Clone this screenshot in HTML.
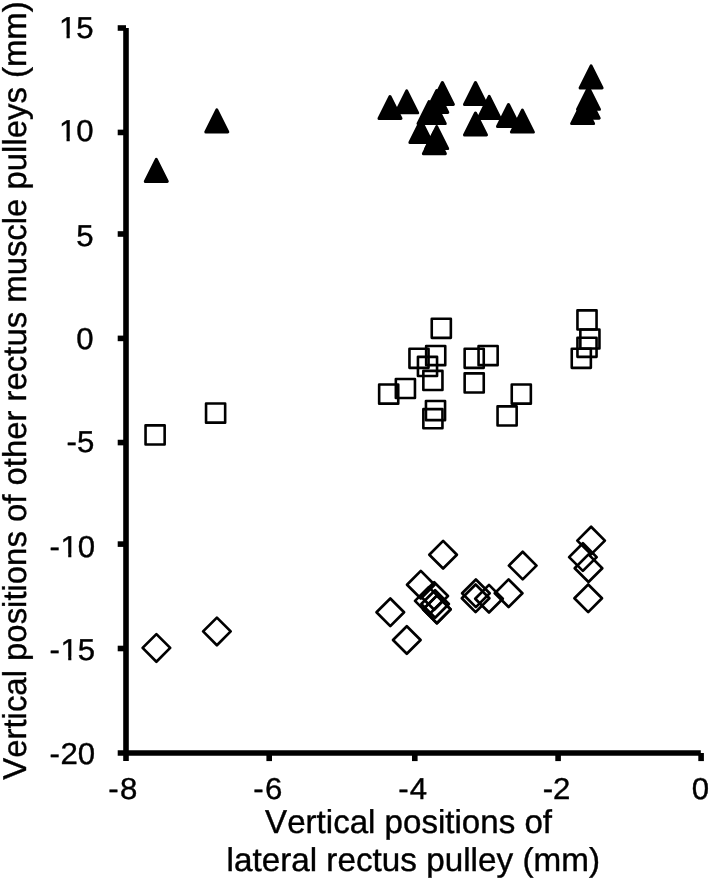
<!DOCTYPE html>
<html lang="en">
<head>
<meta charset="utf-8">
<title>Vertical positions of rectus muscle pulleys</title>
<style>
html,body{margin:0;padding:0;background:#fff;}
svg{display:block;}
text{font-family:"Liberation Sans",Arial,Helvetica,sans-serif;fill:#000;stroke:#000;stroke-width:0.4px;text-rendering:geometricPrecision;font-kerning:none;}
.tk{font-size:30.25px;}
.ti{font-size:33px;}
.ax{stroke:#000;stroke-width:5.6;fill:none;}
.tr{fill:#000;stroke:#000;stroke-width:3;stroke-linejoin:round;}
.sq{fill:none;stroke:#000;stroke-width:2.6;stroke-linejoin:round;}
.di{fill:none;stroke:#000;stroke-width:2.7;stroke-linejoin:round;}
</style>
</head>
<body>
<svg width="710" height="882" viewBox="0 0 710 882">
<rect x="0" y="0" width="710" height="882" fill="#fff"/>
<g class="ax">
<path d="M126.00 28.00 V761.10"/>
<path d="M117.70 753.00 H700.80"/>
<path d="M117.70 28.00 H126.00"/>
<path d="M117.70 132.45 H126.00"/>
<path d="M117.70 234.00 H126.00"/>
<path d="M117.70 338.40 H126.00"/>
<path d="M117.70 442.55 H126.00"/>
<path d="M117.70 544.10 H126.00"/>
<path d="M117.70 648.50 H126.00"/>
<path d="M269.20 753.00 V761.10"/>
<path d="M414.80 753.00 V761.10"/>
<path d="M558.10 753.00 V761.10"/>
<path d="M701.10 753.00 V761.10"/>
</g>
<g class="tk" text-anchor="end">
<text transform="translate(93.7 38) scale(1.03 1)">15</text>
<text transform="translate(93.7 141) scale(1.03 1)">10</text>
<text transform="translate(93.7 246) scale(1.03 1)">5</text>
<text transform="translate(93.7 349) scale(1.03 1)">0</text>
<text transform="translate(94.3 452) scale(1.03 1)">-5</text>
<text transform="translate(95.2 557) scale(1.03 1)">-<tspan dx="0.6">10</tspan></text>
<text transform="translate(95.2 660) scale(1.03 1)">-<tspan dx="0.6">15</tspan></text>
<text transform="translate(95.2 764) scale(1.03 1)">-<tspan dx="0.6">20</tspan></text>
</g>
<g fill="#fff">
<rect x="60.50" y="34.7" width="6.03" height="5"/><rect x="69.75" y="34.7" width="5.85" height="5"/>
<rect x="60.50" y="137.7" width="6.03" height="5"/><rect x="69.75" y="137.7" width="5.85" height="5"/>
<rect x="61.90" y="553.7" width="6.31" height="5"/><rect x="71.36" y="553.7" width="5.94" height="5"/>
<rect x="61.90" y="656.7" width="6.31" height="5"/><rect x="71.36" y="656.7" width="5.94" height="5"/>
</g>
<g class="tk" text-anchor="middle">
<text transform="translate(122.8 799) scale(1.03 1)">-<tspan dx="1.2">8</tspan></text>
<text transform="translate(267.8 799) scale(1.03 1)">-<tspan dx="1.2">6</tspan></text>
<text transform="translate(412.6 799) scale(1.03 1)">-<tspan dx="1.2">4</tspan></text>
<text transform="translate(556.6 799) scale(1.03 1)">-2</text>
<text transform="translate(700.5 799) scale(1.03 1)">0</text>
</g>
<g class="ti">
<text x="265.1" y="833" textLength="286.9" lengthAdjust="spacingAndGlyphs">Vertical positions of</text>
<text x="226.5" y="871" textLength="373.5" lengthAdjust="spacingAndGlyphs">lateral rectus pulley (mm)</text>
<text transform="translate(26.3 779.7) rotate(-90)" x="0" y="0" textLength="778.4" lengthAdjust="spacingAndGlyphs">Vertical positions of other rectus muscle pulleys (mm)</text>
</g>
<g class="tr">
<path d="M156.3 159.4 L167.3 181.4 L145.3 181.4 Z"/>
<path d="M216.8 109.9 L227.8 131.9 L205.8 131.9 Z"/>
<path d="M390.0 96.5 L401.0 118.5 L379.0 118.5 Z"/>
<path d="M406.7 90.8 L417.7 112.8 L395.7 112.8 Z"/>
<path d="M442.4 82.5 L453.4 104.5 L431.4 104.5 Z"/>
<path d="M436.8 90.5 L447.8 112.5 L425.8 112.5 Z"/>
<path d="M429.0 101.6 L440.0 123.6 L418.0 123.6 Z"/>
<path d="M434.3 101.6 L445.3 123.6 L423.3 123.6 Z"/>
<path d="M436.7 126.6 L447.7 148.6 L425.7 148.6 Z"/>
<path d="M434.4 131.7 L445.4 153.7 L423.4 153.7 Z"/>
<path d="M420.9 120.5 L431.9 142.5 L409.9 142.5 Z"/>
<path d="M475.5 82.5 L486.5 104.5 L464.5 104.5 Z"/>
<path d="M489.2 96.4 L500.2 118.4 L478.2 118.4 Z"/>
<path d="M508.5 104.5 L519.5 126.5 L497.5 126.5 Z"/>
<path d="M522.4 110.1 L533.4 132.1 L511.4 132.1 Z"/>
<path d="M475.5 113.0 L486.5 135.0 L464.5 135.0 Z"/>
<path d="M591.1 65.9 L602.1 87.9 L580.1 87.9 Z"/>
<path d="M588.5 87.3 L599.5 109.3 L577.5 109.3 Z"/>
<path d="M588.2 96.2 L599.2 118.2 L577.2 118.2 Z"/>
<path d="M582.6 101.6 L593.6 123.6 L571.6 123.6 Z"/>
</g>
<g class="sq">
<rect x="145.55" y="425.35" width="19.1" height="19.1"/>
<rect x="206.05" y="403.55" width="19.1" height="19.1"/>
<rect x="431.75" y="318.75" width="19.1" height="19.1"/>
<rect x="426.15" y="346.05" width="19.1" height="19.1"/>
<rect x="409.45" y="348.75" width="19.1" height="19.1"/>
<rect x="417.95" y="356.85" width="19.1" height="19.1"/>
<rect x="423.35" y="370.85" width="19.1" height="19.1"/>
<rect x="395.85" y="378.95" width="19.1" height="19.1"/>
<rect x="379.15" y="384.55" width="19.1" height="19.1"/>
<rect x="425.95" y="401.05" width="19.1" height="19.1"/>
<rect x="423.35" y="409.15" width="19.1" height="19.1"/>
<rect x="464.65" y="348.75" width="19.1" height="19.1"/>
<rect x="478.55" y="346.05" width="19.1" height="19.1"/>
<rect x="464.65" y="373.35" width="19.1" height="19.1"/>
<rect x="511.75" y="384.55" width="19.1" height="19.1"/>
<rect x="497.55" y="406.35" width="19.1" height="19.1"/>
<rect x="577.45" y="310.35" width="19.1" height="19.1"/>
<rect x="580.35" y="329.45" width="19.1" height="19.1"/>
<rect x="577.45" y="337.75" width="19.1" height="19.1"/>
<rect x="571.75" y="348.75" width="19.1" height="19.1"/>
</g>
<g class="di">
<path d="M156.4 634.1 L170.2 647.9 L156.4 661.7 L142.6 647.9 Z"/>
<path d="M216.9 617.6 L230.7 631.4 L216.9 645.2 L203.1 631.4 Z"/>
<path d="M443.1 540.9 L456.9 554.7 L443.1 568.5 L429.3 554.7 Z"/>
<path d="M420.8 570.9 L434.6 584.7 L420.8 598.5 L407.0 584.7 Z"/>
<path d="M390.3 598.5 L404.1 612.3 L390.3 626.1 L376.5 612.3 Z"/>
<path d="M406.8 626.2 L420.6 640.0 L406.8 653.8 L393.0 640.0 Z"/>
<path d="M434.2 582.2 L448.0 596.0 L434.2 609.8 L420.4 596.0 Z"/>
<path d="M428.8 587.1 L442.6 600.9 L428.8 614.7 L415.0 600.9 Z"/>
<path d="M435.1 590.2 L448.9 604.0 L435.1 617.8 L421.3 604.0 Z"/>
<path d="M436.9 595.6 L450.7 609.4 L436.9 623.2 L423.1 609.4 Z"/>
<path d="M436.9 595.6 L450.7 609.4 L436.9 623.2 L423.1 609.4 Z"/>
<path d="M522.7 551.8 L536.5 565.6 L522.7 579.4 L508.9 565.6 Z"/>
<path d="M508.6 579.4 L522.4 593.2 L508.6 607.0 L494.8 593.2 Z"/>
<path d="M489.0 584.9 L502.8 598.7 L489.0 612.5 L475.2 598.7 Z"/>
<path d="M475.9 579.5 L489.7 593.3 L475.9 607.1 L462.1 593.3 Z"/>
<path d="M475.6 584.5 L489.4 598.3 L475.6 612.1 L461.8 598.3 Z"/>
<path d="M591.1 526.8 L604.9 540.6 L591.1 554.4 L577.3 540.6 Z"/>
<path d="M582.9 543.3 L596.7 557.1 L582.9 570.9 L569.1 557.1 Z"/>
<path d="M588.5 554.4 L602.3 568.2 L588.5 582.0 L574.7 568.2 Z"/>
<path d="M588.2 584.5 L602.0 598.3 L588.2 612.1 L574.4 598.3 Z"/>
</g>
</svg>
</body>
</html>
